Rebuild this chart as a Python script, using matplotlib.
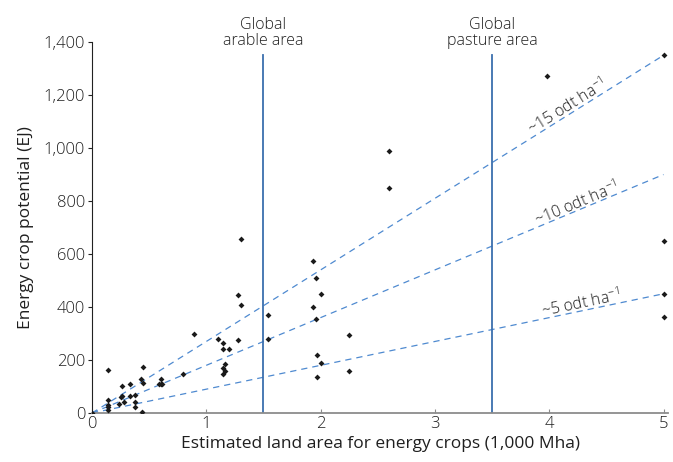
import numpy as np
import matplotlib
matplotlib.use("Agg")
import matplotlib.pyplot as plt

plt.rcParams['font.family'] = ['Open Sans', 'DejaVu Sans']
plt.rcParams['font.weight'] = 'light'
plt.rcParams['mathtext.fontset'] = 'custom'
plt.rcParams['mathtext.rm'] = 'Open Sans:light'
plt.rcParams['mathtext.default'] = 'regular'

# estimated land area (1,000 Mha) vs energy crop potential (EJ)
land = [0, 0.14, 0.14, 0.14, 0.14, 0.14, 0.24, 0.25, 0.26, 0.26, 0.28, 0.33, 0.33,
        0.38, 0.38, 0.38, 0.43, 0.44, 0.45, 0.45, 0.59, 0.60, 0.61, 0.60,
        0.80, 0.89, 1.10, 1.15, 1.15, 1.16, 1.15, 1.16, 1.15, 1.20, 1.28, 1.28,
        1.30, 1.30, 1.54, 1.54, 1.93, 1.96, 2.00, 1.93, 1.96, 1.97, 2.00, 1.97,
        2.25, 2.25, 2.60, 2.60, 3.98, 5.0, 5.0, 5.0, 5.0]
potential = [0, 162, 49, 30, 23, 11, 34, 60, 102, 64, 42, 109, 64,
             68, 42, 23, 128, 4, 174, 113, 109, 128, 109, 109,
             147, 298, 279, 264, 241, 185, 170, 158, 147, 241, 275, 445,
             408, 657, 370, 279, 574, 509, 449, 400, 355, 219, 189, 136,
             294, 158, 989, 849, 1270, 1350, 649, 449, 362]

yields = [15, 10, 5]
slopes = [270, 180, 90]  # EJ per 1,000 Mha
label_x = [4.2, 4.27, 4.3]
ref_x = [1.5, 3.5]
ref_labels = ['Global\narable area', 'Global\npasture area']

txt = '#1f1f1f'

fig = plt.figure(figsize=(6.73, 4.62), dpi=100)
ax = fig.add_axes([0.1367, 0.106, 0.856, 0.803])
ax.set_xlim(0, 5.04)
ax.set_ylim(0, 1400)

# screen angle of each line
w_px = 0.856 * 673
h_px = 0.803 * 462
xs = np.array([0, 5])
for y_, s, lx in zip(yields, slopes, label_x):
    ax.plot(xs, s * xs, ls=(0, (5, 4)), color='#4f8ad0', lw=0.9, zorder=1)
    ang = np.degrees(np.arctan(s * (h_px / 1400) / (w_px / 5.04)))
    ax.text(lx, s * lx - 10, '~%d odt ha$^{-1}$' % y_, rotation=ang,
            rotation_mode='anchor', ha='center', va='bottom',
            fontsize=11.5, color=txt)

for rx, rl in zip(ref_x, ref_labels):
    ax.plot([rx, rx], [0, 1350], color='#3b6fae', lw=1.3, zorder=1)
    ax.text(rx, 1375, rl, ha='center', va='bottom', fontsize=11.5,
            color=txt, linespacing=1.0, clip_on=False)

ax.plot(land, potential, 'D', color='#1a1a1a', ms=3, mew=0, zorder=3)

ax.set_xticks([0, 1, 2, 3, 4, 5])
ax.set_yticks(range(0, 1401, 200))
ax.set_yticklabels(['{:,}'.format(v) for v in range(0, 1401, 200)])
ax.spines['top'].set_visible(False)
ax.spines['right'].set_visible(False)
ax.spines['bottom'].set_color('#8c8c8c')
ax.spines['bottom'].set_linewidth(1.3)
ax.spines['left'].set_color('#222222')
ax.tick_params(axis='x', direction='in', length=3, color='#8c8c8c',
               labelsize=12, labelcolor=txt, pad=2)
ax.tick_params(axis='y', direction='out', length=3, color='#222222',
               labelsize=12, labelcolor=txt, pad=2)
ax.set_xlabel('Estimated land area for energy crops (1,000 Mha)', fontsize=12.5,
              color=txt, labelpad=3)
ax.set_ylabel('Energy crop potential (EJ)', fontsize=12.5, color=txt,
              labelpad=7)

fig.savefig('out.png', dpi=100)
